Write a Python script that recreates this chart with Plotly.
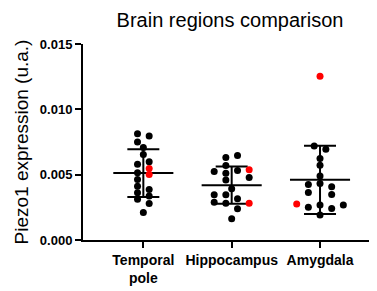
import numpy as np
import plotly.graph_objects as go

categories = ["Temporal<br>pole", "Hippocampus", "Amygdala"]

temporal_vals = [0.00814, 0.00796, 0.0075, 0.00707, 0.00654, 0.0058, 0.00598, 0.00547, 0.00501,
                 0.00514, 0.00463, 0.00412, 0.00361, 0.00311, 0.00387, 0.00336, 0.0028, 0.00211]
temporal_cols = [-1, 1, -1, 0, 0, -1, 1, 1, 1, -1, -1, -1, -1, -1, 1, 1, 1, 0]
temporal_red = [0, 0, 0, 0, 0, 0, 0, 1, 1, 0, 0, 0, 0, 0, 0, 0, 0, 0]

hippo_vals = [0.00631, 0.00646, 0.0057, 0.00524, 0.00511, 0.00532, 0.00537, 0.0046, 0.00479,
              0.00392, 0.00346, 0.00346, 0.00315, 0.00288, 0.00282, 0.00282, 0.00239, 0.00163]
hippo_cols = [-1, 1, -1, -3, -1, 1, 3, -1, 3, 0, -3, -1, 1, -3, -1, 3, 1, 0]
hippo_red = [0, 0, 0, 0, 0, 0, 1, 0, 0, 0, 0, 0, 0, 0, 0, 1, 0, 0]

amyg_vals = [0.0072, 0.00695, 0.00624, 0.00573, 0.00489, 0.00425, 0.00433, 0.00407, 0.00364,
             0.00349, 0.00275, 0.0025, 0.00267, 0.00242, 0.00267, 0.00191, 0.01254]
amyg_cols = [-1, 1, 0, 0, 0, -2, 0, 2, -2, 2, -4, -2, 0, 2, 4, 0, 0]
amyg_red = [0, 0, 0, 0, 0, 0, 0, 0, 0, 0, 1, 0, 0, 0, 0, 0, 1]

ytick_vals = [0.0, 0.005, 0.010, 0.015]
ytick_text = ["0.000", "0.005", "0.010", "0.015"]

groups = [
    (temporal_vals, temporal_cols, temporal_red),
    (hippo_vals, hippo_cols, hippo_red),
    (amyg_vals, amyg_cols, amyg_red),
]

COL_STEP = 0.066   # jitter step in category units
MEAN_HALF = 0.34
FONT = "Liberation Sans, Arial, sans-serif"

# page has an 8px body margin; compensate
W, H = 369, 283

fig = go.Figure()

for i, (vals, cols, red) in enumerate(groups):
    vals = np.array(vals)
    xs = i + np.array(cols) * COL_STEP
    red = np.array(red, dtype=bool)
    mean = vals.mean()
    sd = vals.std(ddof=1)
    fig.add_trace(go.Scatter(x=[i - MEAN_HALF, i + MEAN_HALF], y=[mean, mean], mode="lines",
                             line=dict(color="black", width=2), hoverinfo="skip"))
    fig.add_trace(go.Scatter(x=[i], y=[mean], mode="markers", marker=dict(size=1, color="rgba(0,0,0,0)"),
                             error_y=dict(type="data", array=[sd], visible=True, color="black",
                                          thickness=2, width=16)))
    fig.add_trace(go.Scatter(x=xs[~red], y=vals[~red], mode="markers",
                             marker=dict(color="black", size=7, line=dict(width=0))))
    fig.add_trace(go.Scatter(x=xs[red], y=vals[red], mode="markers",
                             marker=dict(color="#FF0000", size=7, line=dict(width=0))))

fig.update_layout(
    width=W, height=H,
    margin=dict(l=75, r=0, t=35.5, b=51),
    paper_bgcolor="white", plot_bgcolor="white",
    showlegend=False,
    title=dict(text="Brain regions comparison", x=0.5, xref="paper", xanchor="center",
               y=1 - 11.5 / H, yref="container", yanchor="middle",
               font=dict(family=FONT, size=20, color="black")),
    font=dict(family=FONT, color="black"),
)
fig.update_xaxes(
    range=[-0.683, 2.645], tickmode="array", tickvals=[0, 1, 2], ticktext=categories,
    showgrid=False, zeroline=False, showline=True, linecolor="black", linewidth=2,
    ticks="outside", ticklen=6, tickwidth=2, tickcolor="black",
    tickfont=dict(family=FONT, size=14, color="black", weight="bold"),
)
fig.update_yaxes(
    range=[0, 0.015], tickmode="array", tickvals=ytick_vals, ticktext=ytick_text,
    showgrid=False, zeroline=False, showline=True, linecolor="black", linewidth=2,
    ticks="outside", ticklen=6, tickwidth=2, tickcolor="black",
    tickfont=dict(family=FONT, size=13, color="black", weight="bold"),
    title=dict(text="Piezo1 expression (u.a.)", standoff=6,
               font=dict(family=FONT, size=19, color="black")),
)

fig.write_html("out.html")
